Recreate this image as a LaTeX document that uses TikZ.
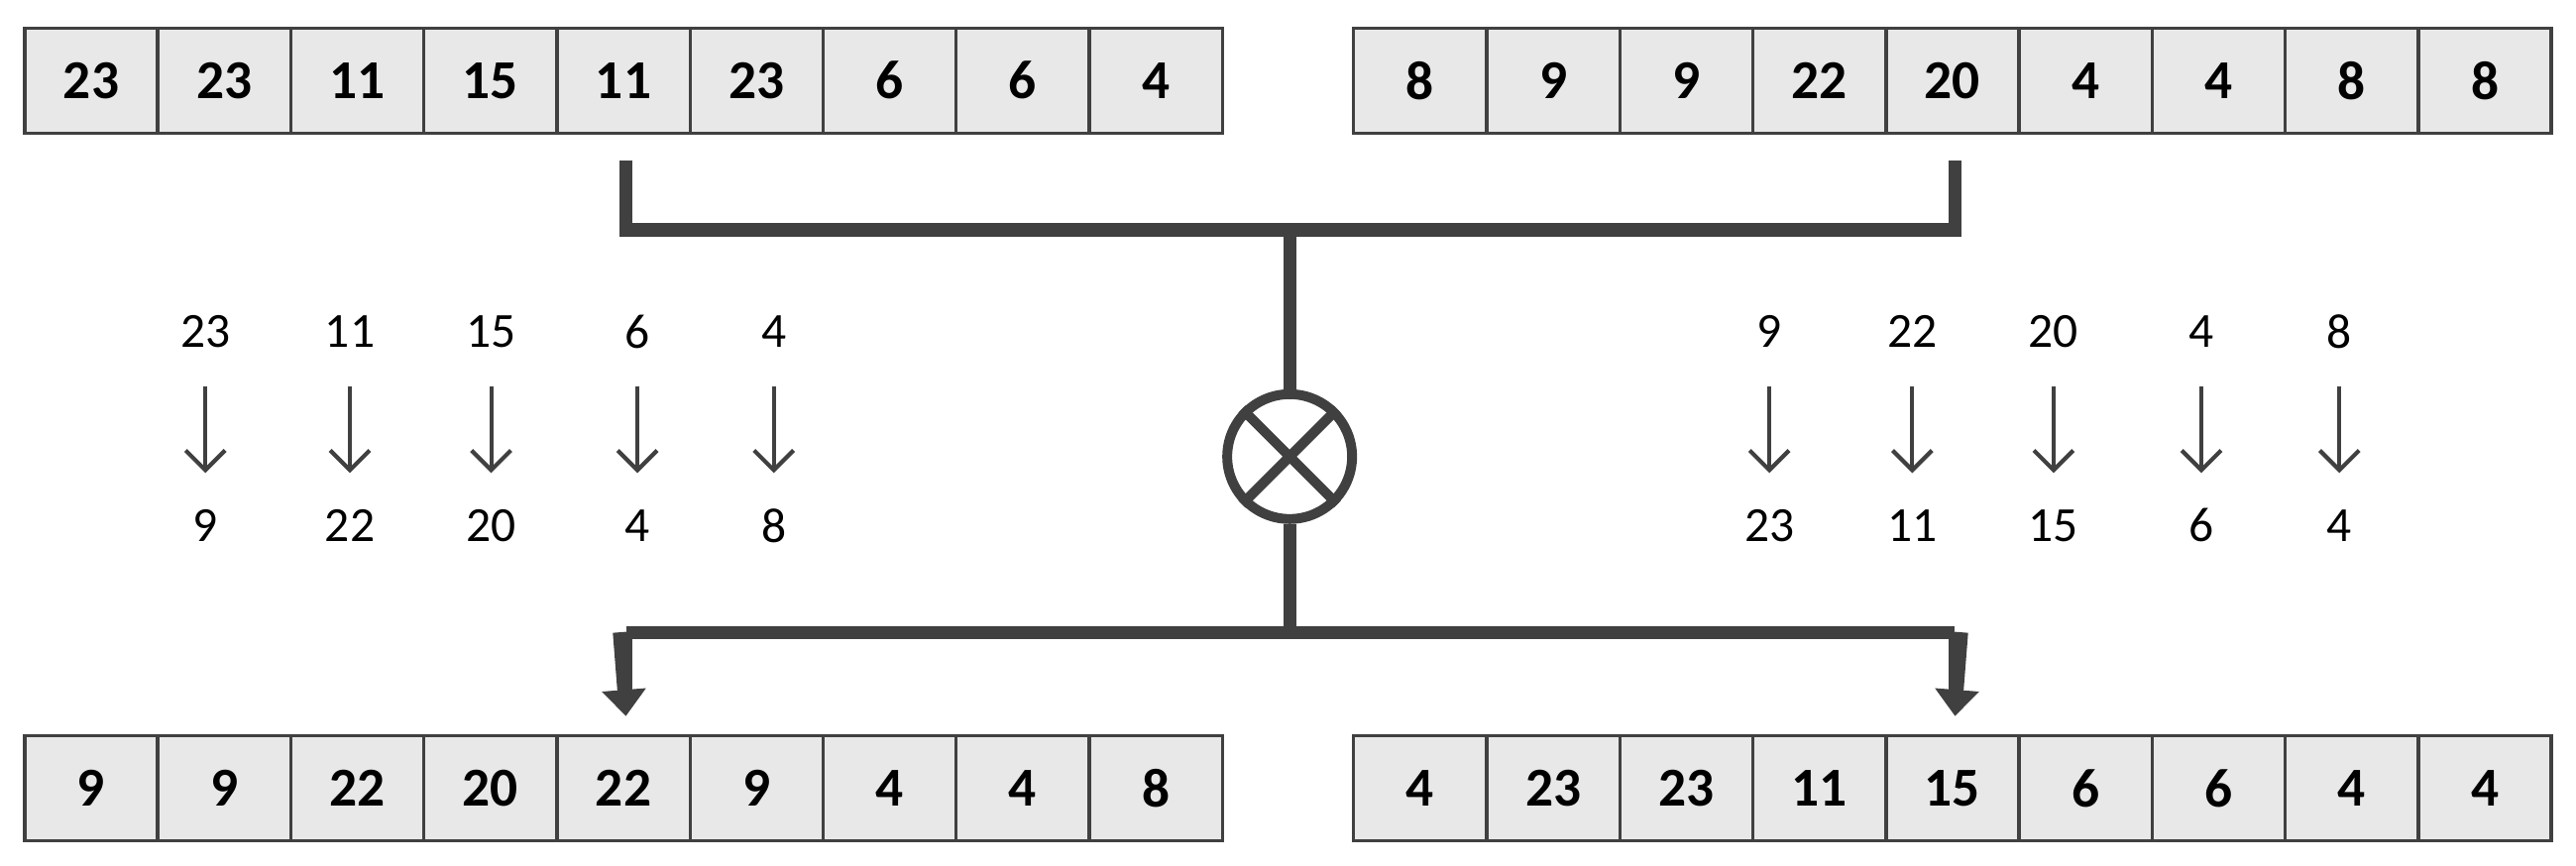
\documentclass[tikz,border=0pt]{standalone}
\usepackage{fontspec}
\setmainfont{Carlito}
\usetikzlibrary{arrows.meta}
\definecolor{dk}{HTML}{404040}
\definecolor{cellfill}{HTML}{E8E8E8}
\tikzset{
  cell/.style={draw=dk,line width=0.2mm,fill=cellfill,minimum width=8.1mm,minimum height=6.4mm,inner sep=0,font=\fontsize{9.5}{10}\selectfont\bfseries},
  thick bar/.style={draw=dk,line width=0.8mm},
  num/.style={font=\fontsize{8.5}{9}\selectfont,text=black,inner sep=0},
  smallarrow/.style={draw=dk,line width=0.25mm,-{Straight Barb[length=1.2mm,width=2.4mm]}}
}
\begin{document}
\begin{tikzpicture}[x=0.1mm,y=-0.1mm]
\useasboundingbox (0,0) rectangle (1568,527);
\newcommand{\rowcells}[4]{% name prefix, x start, y center, list
  \foreach \v [count=\i] in {#4} {
    \node[cell] (#1\i) at ({#2+40.5+81*(\i-1)},#3) {\v};
  }}
\rowcells{ta}{15}{49}{23,23,11,15,11,23,6,6,4}
\rowcells{tb}{824}{49}{8,9,9,22,20,4,4,8,8}
\rowcells{ba}{15}{480}{9,9,22,20,22,9,4,4,8}
\rowcells{bb}{824}{480}{4,23,23,11,15,6,6,4,4}
% cross circle
\node[draw=dk,line width=0.6mm,circle,minimum size=7.6mm,inner sep=0] (x) at (785,278) {};
\draw[dk,line width=0.6mm] (x.north west) -- (x.south east) (x.north east) -- (x.south west);
\coordinate (lt) at (381,140);
\coordinate (rt) at (1190,140);
\coordinate (ct) at (785,140);
\draw[thick bar] (ta5.south -| lt) ++(0,16) -- (lt) -- (rt) -- ([yshift=-1.6mm]tb5.south -| rt);
\draw[thick bar] (ct) -- (x.north);
\coordinate (lb) at (381,385);
\coordinate (rb) at (1190,385);
\coordinate (cb) at (785,385);
\draw[thick bar] (x.south) -- (cb);
\draw[thick bar,line cap=butt] (lb) -- (rb);
\draw[thick bar,-{Triangle[length=1.6mm,width=2.6mm]}] ([xshift=-0.4mm]lb) -- (381,436);
\draw[thick bar,-{Triangle[length=1.6mm,width=2.6mm]}] ([xshift=0.4mm]rb) -- (1190,436);
\draw[thick bar] (lb) -- (381,420);
\draw[thick bar] (rb) -- (1190,420);
% mappings
\foreach \a/\b/\xx [count=\k] in {23/9/125,11/22/213,15/20/299,6/4/388,4/8/471,9/23/1077,22/11/1164,20/15/1250,4/6/1340,8/4/1424}{
  \node[num] (u\k) at (\xx,202) {\a};
  \node[num] (d\k) at (\xx,320) {\b};
  \draw[smallarrow] (\xx,235) -- (\xx,288);
}
\end{tikzpicture}
\end{document}
